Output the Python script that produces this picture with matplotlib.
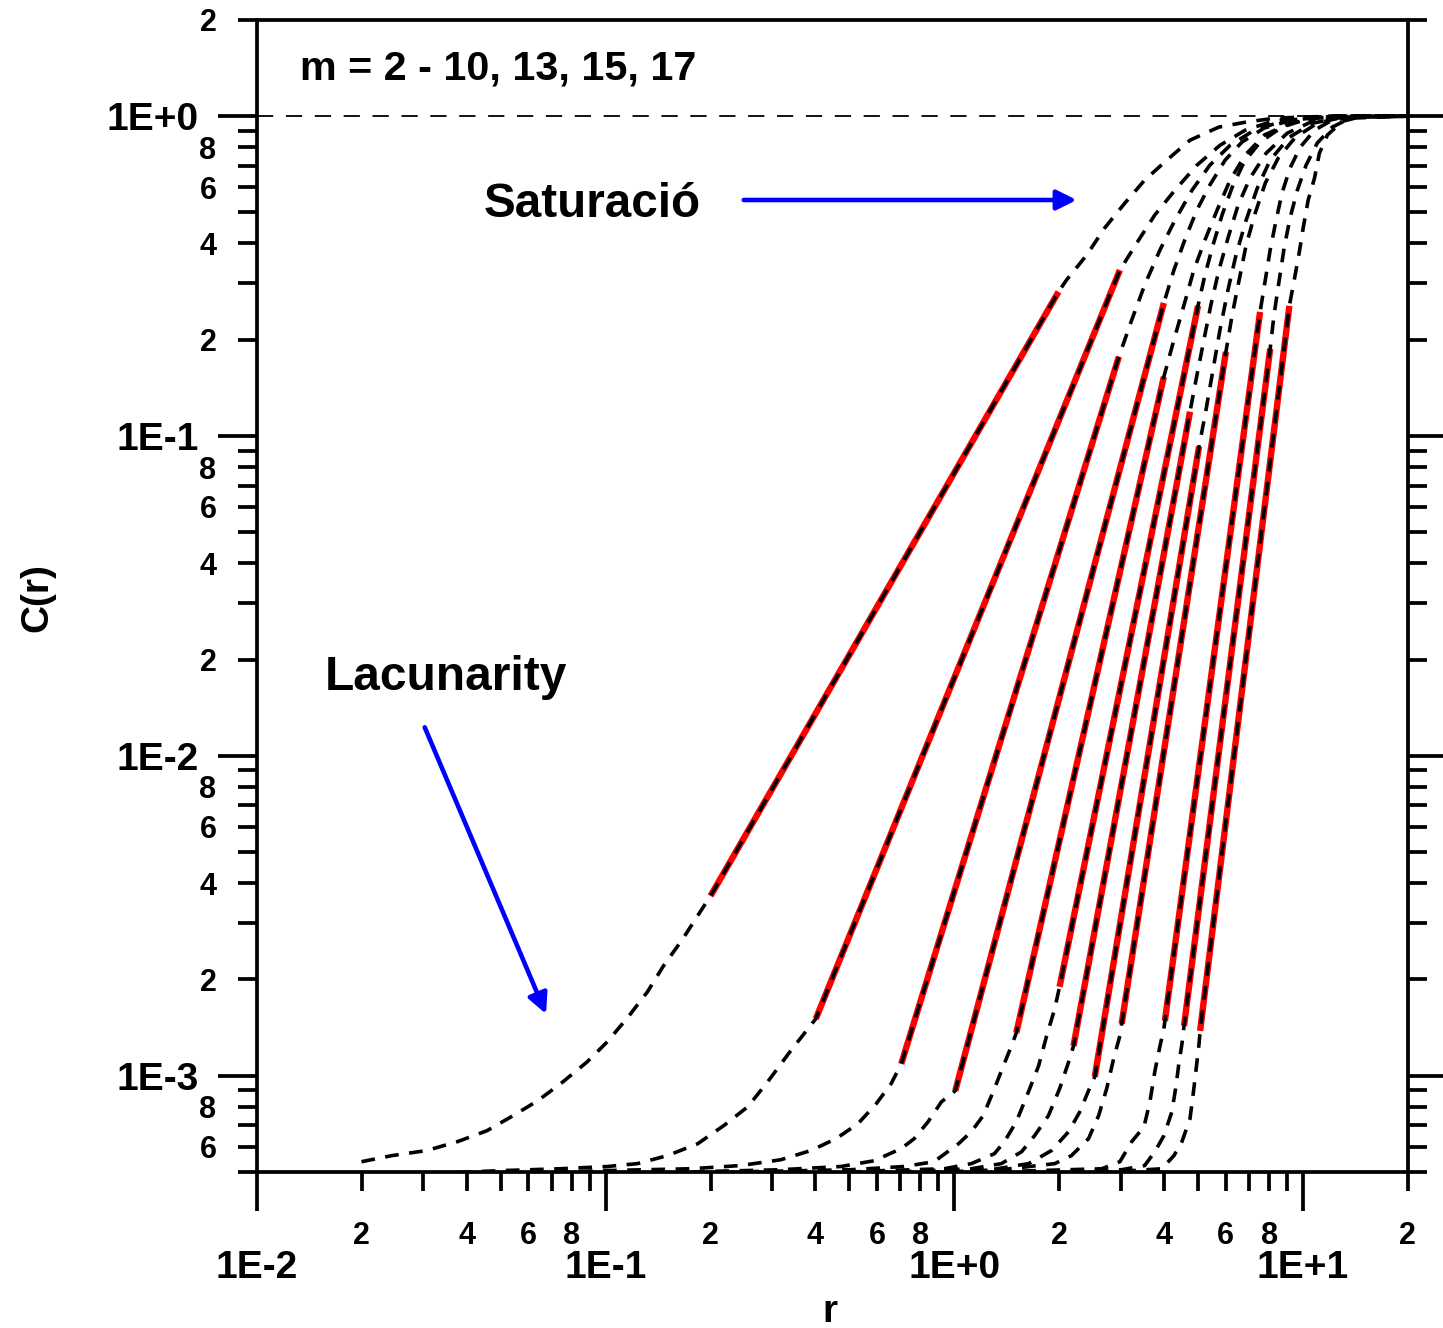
import matplotlib.pyplot as plt
import numpy as np
from matplotlib.ticker import LogLocator, FuncFormatter

plt.rcParams['font.family'] = ['Liberation Sans', 'DejaVu Sans']
plt.rcParams['font.weight'] = 'bold'

# embedding dimensions
m_values = [2, 3, 4, 5, 6, 7, 8, 9, 10, 13, 15, 17]

# correlation integral C(r) for each m (log10 r, log10 C)
m2_logr = [-1.700, -1.613, -1.513, -1.424, -1.340, -1.265, -1.194, -1.122, -1.053, -0.995, -0.935, -0.880,
           -0.834, -0.779, -0.733, -0.699, 0.299, 0.322, 0.380, 0.431, 0.489, 0.546, 0.610, 0.676, 0.759,
           0.834, 0.920, 0.998, 1.093, 1.301]
m2_logC = [-3.269, -3.250, -3.234, -3.206, -3.172, -3.125, -3.078, -3.019, -2.957, -2.894, -2.816, -2.738,
           -2.657, -2.573, -2.495, -2.438, -0.549, -0.512, -0.434, -0.350, -0.272, -0.200, -0.137, -0.075,
           -0.034, -0.019, -0.006, -0.003, 0.0, 0.0]

m3_logr = [-1.700, -1.504, -1.303, -1.130, -0.995, -0.909, -0.823, -0.736, -0.661, -0.592, -0.535, -0.469,
           -0.397, 0.475, 0.529, 0.575, 0.633, 0.696, 0.762, 0.834, 0.912, 0.998, 1.084, 1.301]
m3_logC = [-3.338, -3.306, -3.297, -3.291, -3.284, -3.275, -3.250, -3.213, -3.156, -3.097, -3.019, -2.922,
           -2.822, -0.481, -0.387, -0.309, -0.231, -0.153, -0.091, -0.044, -0.016, -0.003, 0.0, 0.0]

m4_logr = [-1.700, -1.303, -1.015, -0.756, -0.613, -0.498, -0.411, -0.339, -0.276, -0.224, -0.181, -0.152,
           0.472, 0.509, 0.546, 0.590, 0.633, 0.682, 0.733, 0.791, 0.860, 0.940, 1.027, 1.099, 1.301]
m4_logC = [-3.338, -3.309, -3.297, -3.291, -3.281, -3.263, -3.234, -3.197, -3.150, -3.088, -3.025, -2.963,
           -0.752, -0.637, -0.528, -0.418, -0.325, -0.231, -0.153, -0.091, -0.044, -0.016, -0.003, 0.0, 0.0]

m5_logr = [-1.447, -1.015, -0.728, -0.498, -0.325, -0.230, -0.152, -0.115, -0.075, -0.037, 0.003,
           0.601, 0.630, 0.661, 0.696, 0.733, 0.777, 0.825, 0.889, 0.969, 1.056, 1.127, 1.301]
m5_logC = [-3.347, -3.316, -3.300, -3.294, -3.284, -3.266, -3.228, -3.197, -3.144, -3.082, -3.047,
           -0.584, -0.481, -0.387, -0.293, -0.215, -0.137, -0.081, -0.037, -0.012, -0.003, 0.0, 0.0]

m6_logr = [-1.015, -0.584, -0.296, -0.144, -0.058, 0.012, 0.049, 0.083, 0.115, 0.141, 0.164, 0.178,
           0.601, 0.630, 0.659, 0.687, 0.719, 0.754, 0.791, 0.834, 0.889, 0.969, 1.056, 1.127, 1.301]
m6_logC = [-3.322, -3.300, -3.294, -3.284, -3.269, -3.213, -3.175, -3.125, -3.041, -2.969, -2.907, -2.866,
           -0.815, -0.699, -0.590, -0.481, -0.387, -0.293, -0.200, -0.122, -0.059, -0.019, -0.003, 0.0, 0.0]

m7_logr = [-0.584, -0.210, -0.029, 0.049, 0.115, 0.144, 0.178, 0.213, 0.242, 0.265, 0.288, 0.302,
           0.699, 0.719, 0.742, 0.768, 0.797, 0.831, 0.877, 0.940, 1.012, 1.099, 1.301]
m7_logC = [-3.316, -3.297, -3.291, -3.275, -3.244, -3.206, -3.144, -3.050, -2.969, -2.875, -2.791, -2.722,
           -0.593, -0.496, -0.403, -0.309, -0.222, -0.144, -0.081, -0.034, -0.009, 0.0, 0.0]

m8_logr = [-0.440, -0.152, 0.049, 0.135, 0.193, 0.230, 0.270, 0.302, 0.328, 0.342,
           0.676, 0.696, 0.716, 0.736, 0.759, 0.785, 0.814, 0.848, 0.894, 0.955, 1.027, 1.113, 1.301]
m8_logC = [-3.316, -3.300, -3.291, -3.275, -3.238, -3.188, -3.125, -3.041, -2.957, -2.907,
           -0.924, -0.809, -0.699, -0.590, -0.481, -0.381, -0.278, -0.194, -0.116, -0.053, -0.016, 0.0, 0.0]

m9_logr = [-0.440, -0.152, 0.106, 0.213, 0.279, 0.328, 0.360, 0.385, 0.403,
           0.702, 0.722, 0.742, 0.762, 0.785, 0.808, 0.837, 0.869, 0.906, 0.961, 1.027, 1.113, 1.301]
m9_logC = [-3.322, -3.303, -3.294, -3.275, -3.234, -3.175, -3.113, -3.047, -3.003,
           -1.033, -0.918, -0.793, -0.668, -0.543, -0.434, -0.325, -0.225, -0.137, -0.066, -0.022, -0.003, 0.0]

m10_logr = [-0.152, 0.135, 0.288, 0.336, 0.385, 0.414, 0.437, 0.457, 0.475, 0.480,
            0.779, 0.797, 0.817, 0.837, 0.863, 0.892, 0.929, 0.978, 1.041, 1.113, 1.301]
m10_logC = [-3.306, -3.294, -3.275, -3.250, -3.197, -3.125, -3.041, -2.947, -2.875, -2.838,
            -0.737, -0.621, -0.512, -0.403, -0.303, -0.209, -0.131, -0.066, -0.022, -0.003, 0.0]

m13_logr = [-0.152, 0.135, 0.423, 0.475, 0.509, 0.544, 0.561, 0.575, 0.590, 0.601, 0.604,
            0.877, 0.892, 0.906, 0.923, 0.940, 0.963, 0.992, 1.033, 1.084, 1.142, 1.301]
m13_logC = [-3.313, -3.300, -3.291, -3.269, -3.206, -3.160, -3.082, -2.988, -2.907, -2.854, -2.829,
            -0.612, -0.512, -0.418, -0.325, -0.240, -0.162, -0.097, -0.044, -0.012, -0.003, 0.0]

m15_logr = [-0.152, 0.135, 0.480, 0.546, 0.575, 0.601, 0.624, 0.636, 0.644, 0.653, 0.659,
            0.906, 0.917, 0.932, 0.946, 0.963, 0.984, 1.009, 1.041, 1.084, 1.136, 1.301]
m15_logC = [-3.316, -3.303, -3.294, -3.281, -3.238, -3.188, -3.113, -3.032, -2.963, -2.900, -2.844,
            -0.727, -0.621, -0.512, -0.412, -0.318, -0.231, -0.153, -0.084, -0.034, -0.006, 0.0]

m17_logr = [0.135, 0.423, 0.595, 0.630, 0.653, 0.676, 0.687, 0.696, 0.702, 0.705,
            0.961, 0.975, 0.989, 1.001, 1.015, 1.033, 1.047, 1.070, 1.113, 1.171, 1.301]
m17_logC = [-3.313, -3.303, -3.291, -3.250, -3.206, -3.135, -3.041, -2.957, -2.900, -2.860,
            -0.593, -0.512, -0.428, -0.347, -0.262, -0.194, -0.116, -0.059, -0.016, 0.0, 0.0]

# linear fits in the scaling region (end points, log10)
fit_logr_lo = [-0.699, -0.397, -0.152, 0.003, 0.178, 0.302, 0.342, 0.403, 0.480, 0.604, 0.659, 0.705]
fit_logr_hi = [0.299, 0.475, 0.472, 0.601, 0.601, 0.699, 0.676, 0.702, 0.779, 0.877, 0.906, 0.961]
fit_logC_lo = [-2.438, -2.822, -2.963, -3.047, -2.866, -2.722, -2.907, -3.003, -2.838, -2.829, -2.844, -2.860]
fit_logC_hi = [-0.549, -0.481, -0.752, -0.584, -0.815, -0.593, -0.924, -1.033, -0.737, -0.612, -0.727, -0.593]

curves_logr = [m2_logr, m3_logr, m4_logr, m5_logr, m6_logr, m7_logr, m8_logr, m9_logr,
               m10_logr, m13_logr, m15_logr, m17_logr]
curves_logC = [m2_logC, m3_logC, m4_logC, m5_logC, m6_logC, m7_logC, m8_logC, m9_logC,
               m10_logC, m13_logC, m15_logC, m17_logC]

fig = plt.figure(figsize=(14.43, 13.28), dpi=100)
ax = fig.add_axes([0.178, 0.1175, 0.7977, 0.8675])
ax.set_xscale('log')
ax.set_yscale('log')
ax.set_xlim(0.01, 20)
ax.set_ylim(5e-4, 2)

# saturation level
ax.axhline(1.0, color='black', lw=1.3, linestyle=(0, (9, 7)), zorder=1)

for lo_r, hi_r, lo_c, hi_c in zip(fit_logr_lo, fit_logr_hi, fit_logC_lo, fit_logC_hi):
    ax.plot(10 ** np.array([lo_r, hi_r]), 10 ** np.array([lo_c, hi_c]),
            color='red', lw=4.6, solid_capstyle='butt', zorder=2)

for lr, lc in zip(curves_logr, curves_logC):
    ax.plot(10 ** np.array(lr), 10 ** np.array(lc), color='black', lw=2.6,
            linestyle=(0, (3.8, 2.9)), zorder=3)


def major_fmt(v, pos):
    return '1E%+d' % int(round(np.log10(v)))


def minor_fmt(v, pos):
    k = int(round(v / 10 ** np.floor(np.log10(v) + 1e-9)))
    return str(k) if k in (2, 4, 6, 8) else ''


for axis in (ax.xaxis, ax.yaxis):
    axis.set_major_locator(LogLocator(base=10, numticks=12))
    axis.set_minor_locator(LogLocator(base=10, subs=np.arange(2, 10), numticks=30))
    axis.set_major_formatter(FuncFormatter(major_fmt))
    axis.set_minor_formatter(FuncFormatter(minor_fmt))

ax.tick_params(which='both', direction='out', width=2.7, top=False, right=True,
               labelright=False, color='black')
ax.tick_params(which='major', length=28)
ax.tick_params(which='minor', length=14)
ax.tick_params(axis='x', which='major', labelsize=28, pad=28)
ax.tick_params(axis='x', which='minor', labelsize=22, pad=21)
ax.tick_params(axis='y', which='major', labelsize=28, pad=14)
ax.tick_params(axis='y', which='minor', labelsize=22, pad=15)

for s in ax.spines.values():
    s.set_linewidth(2.7)

ax.set_xlabel('r', fontsize=28, fontweight='bold')
ax.xaxis.set_label_coords(0.498, -0.1215)
ax.xaxis.label.set_verticalalignment('center')
ax.set_ylabel('C(r)', fontsize=28, fontweight='bold')
ax.yaxis.set_label_coords(-0.191, 0.499)
ax.yaxis.label.set_verticalalignment('center')

ax.text(0.0374, 0.948, 'm = 2 - 10, 13, 15, 17', transform=ax.transAxes,
        fontsize=29.7, ha='left', va='baseline')
ax.text(0.197, 0.829, 'Saturació', transform=ax.transAxes,
        fontsize=34.3, ha='left', va='baseline')
ax.text(0.059, 0.418, 'Lacunarity', transform=ax.transAxes,
        fontsize=34.5, ha='left', va='baseline')

arrow = dict(arrowstyle='-|>', color='blue', lw=3.3, mutation_scale=30, shrinkA=0, shrinkB=0)
ax.annotate('', xy=(2.244, 0.547), xytext=(0.249, 0.547), arrowprops=arrow)
ax.annotate('', xy=(0.0675, 0.00156), xytext=(0.0303, 0.01228), arrowprops=arrow)

fig.savefig('out.png', dpi=100)
